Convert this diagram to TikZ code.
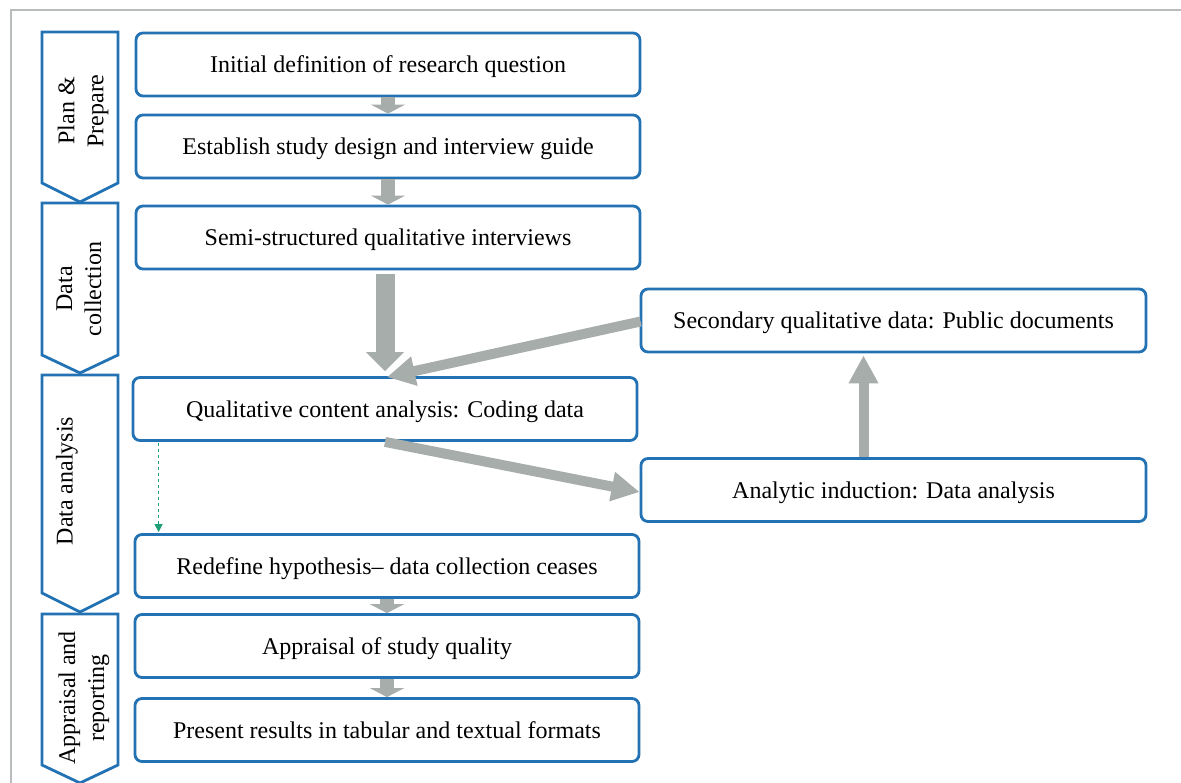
\documentclass[tikz,border=0pt]{standalone}
\usepackage{fontspec}
\setmainfont{Liberation Serif}
\usetikzlibrary{arrows.meta,calc}
\definecolor{boxblue}{HTML}{2272B4}
\definecolor{flowgray}{HTML}{A6ADAB}
\definecolor{notegreen}{HTML}{1E9E77}
\definecolor{framegray}{HTML}{B8BCBC}

\begin{document}
\begin{tikzpicture}[x=1pt,y=-1pt,
  stagebox/.style={draw=boxblue, line width=2.8pt, rounded corners=7pt,
    minimum width=504pt, minimum height=63pt, inner sep=0pt,
    text height=22pt, text depth=5pt,
    font=\fontsize{24}{28}\selectfont, fill=white},
  phase/.style={draw=boxblue, line width=2.8pt, fill=white},
  phaselabel/.style={rotate=90, align=center, font=\fontsize{24}{29}\selectfont},
  steparrow/.style={draw=flowgray, line width=14pt,
    -{Triangle[width=34pt,length=9pt]}},
  bigarrow/.style={draw=flowgray, line width=19pt,
    -{Triangle[width=37pt,length=19pt]}},
  linkarrow/.style={draw=flowgray, line width=10pt,
    -{Triangle[width=28pt,length=28pt]}},
  notearrow/.style={draw=notegreen, line width=0.9pt, dashed,
    -{Triangle[width=8pt,length=8pt]}}
]
\useasboundingbox (0,0) rectangle (1181,783);

% outer frame
\draw[framegray, line width=1.5pt] (11,783) -- (11,10) -- (1181,10);

% phase chevrons
\draw[phase] (42,32) -- (118,32) -- (118,183) -- (80,202) -- (42,183) -- cycle;
\draw[phase] (42,203) -- (118,203) -- (118,355) -- (80,373) -- (42,355) -- cycle;
\draw[phase] (42,375) -- (118,375) -- (118,593) -- (80,612) -- (42,593) -- cycle;
\draw[phase] (42,614) -- (118,614) -- (118,765) -- (80,783) -- (42,765) -- cycle;

\node[phaselabel] (ph1) at (83,111) {Plan \&\\Prepare};
\node[phaselabel] (ph2) at (79,289) {Data\\collection};
\node[phaselabel] (ph3) at (67,481) {Data analysis};
\node[phaselabel] (ph4) at (84,698) {Appraisal and\\reporting};

% process steps
\node[stagebox] (b1) at (388,64.5) {Initial definition of research question};
\node[stagebox] (b2) at (388,146.5) {Establish study design and interview guide};
\node[stagebox] (b3) at (388,237.5) {Semi-structured qualitative interviews};
\node[stagebox] (b4) at (385,409) {Qualitative content analysis: Coding data};
\node[stagebox] (b5) at (387,566) {Redefine hypothesis– data collection ceases};
\node[stagebox] (b6) at (387,646) {Appraisal of study quality};
\node[stagebox] (b7) at (387,730) {Present results in tabular and textual formats};
\node[stagebox, minimum width=505pt] (sec) at (893.5,320.5) {Secondary qualitative data: Public documents};
\node[stagebox, minimum width=505pt] (ind) at (893.5,490) {Analytic induction: Data analysis};

% connectors
\draw[steparrow] (b1.south) -- (b2.north);
\draw[steparrow] (b2.south) -- (b3.north);
\draw[bigarrow] ($(b3.south)+(-3,4)$) -- ($(b4.north)+(0,-5)$);
\draw[linkarrow] ($(sec.west)+(1,1)$) -- ($(b4.north)+(2,1)$);
\draw[linkarrow] (b4.south) -- ($(ind.west)+(0,2)$);
\draw[linkarrow] ($(ind.north)+(-30,0)$) -- ($(sec.south)+(-30,2)$);
\draw[steparrow] (b5.south) -- (b6.north);
\draw[steparrow] (b6.south) -- (b7.north);
\draw[notearrow] ($(b4.south west)+(27,1)$) -- ($(b5.north west)+(25,-1)$);
\end{tikzpicture}
\end{document}
